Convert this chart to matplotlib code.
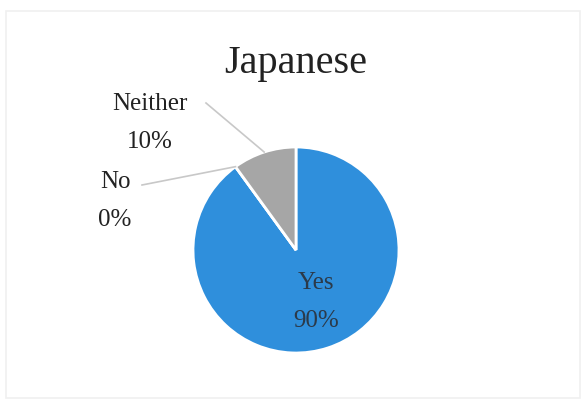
import numpy as np
import matplotlib.pyplot as plt
from matplotlib.patches import Rectangle

labels = ['Yes', 'No', 'Neither']
shares = [90, 0, 10]
colors = ['#2f8fdc', '#7f7f7f', '#a6a6a6']

plt.rcParams['font.family'] = ['Liberation Serif', 'DejaVu Serif']

fig = plt.figure(figsize=(5.83, 4.01), dpi=100)
ax = fig.add_axes([0, 0, 1, 1])

# pie in pixel-like coords (y up)
cx, cy, r = 296, 151, 103
wedges, _ = ax.pie(shares, colors=colors, startangle=90, counterclock=False,
                   center=(cx, cy), radius=r, frame=True,
                   wedgeprops=dict(edgecolor='white', linewidth=2))
ax.set_xlim(0, 583)
ax.set_ylim(0, 401)
ax.set_aspect('equal')
ax.axis('off')

# faint frame
fig.patches.append(Rectangle((6 / 583, 3 / 401), 574 / 583, 387 / 401,
                             transform=fig.transFigure, fill=False,
                             edgecolor='#f0f0f0', linewidth=1.2))

ax.text(cx, 338, 'Japanese', ha='center', va='center', fontsize=29, color='#222222')

# label positions (text anchors)
label_pos = {'Yes': (316, 99), 'No': (115, 200), 'Neither': (150, 278)}
line_start = {'No': (142, 216), 'Neither': (206, 298)}

for w, lab, val in zip(wedges, labels, shares):
    mid = np.deg2rad((w.theta1 + w.theta2) / 2)
    tx, ty = label_pos[lab]
    tcol = '#2b3a4a' if lab == 'Yes' else '#222222'
    ax.text(tx, ty + 19, lab, ha='center', va='center', fontsize=18, color=tcol)
    ax.text(tx, ty - 19, f'{val}%', ha='center', va='center', fontsize=18, color=tcol)
    if lab in line_start:
        ex, ey = cx + r * np.cos(mid), cy + r * np.sin(mid)
        sx, sy = line_start[lab]
        ax.plot([sx, ex], [sy, ey], color='#c8c8c8', linewidth=1.2)

plt.savefig('out.png', dpi=100)
